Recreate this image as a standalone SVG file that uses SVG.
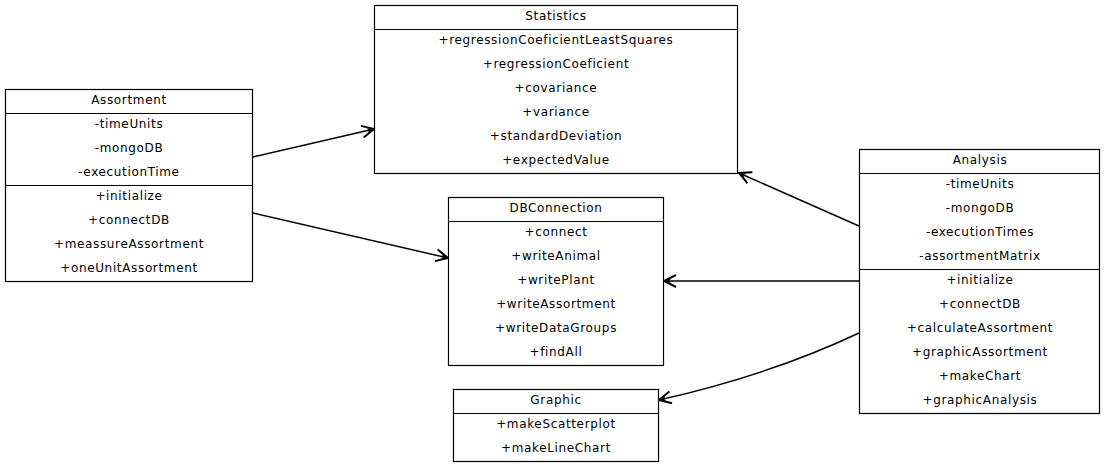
<svg xmlns="http://www.w3.org/2000/svg" width="1107" height="467" viewBox="0 0 1107 467">
<style>
.box{fill:#fff;stroke:#000;stroke-width:1.2}
.ln{stroke:#000;stroke-width:1.2}
text{font-family:"DejaVu Sans",sans-serif;font-size:12px;letter-spacing:0.65px;fill:#000;text-anchor:middle}
.c{fill:none;stroke:#000;stroke-width:1.5}
</style>
<defs>
<marker id="arr" viewBox="-15 -8 16 16" refX="0" refY="0" markerWidth="16" markerHeight="16" markerUnits="userSpaceOnUse" orient="auto">
<path d="M-12,-6 L0,0 L-12,6" fill="none" stroke="#000" stroke-width="2"/>
<path d="M0,0 L-7,-2.5 L-5,0 L-7,2.5 z" fill="#000"/>
</marker>
</defs>
<rect width="1107" height="467" fill="#fff"/>
<g id="Statistics">
<rect class="box" x="374.5" y="5.5" width="363" height="168"/>
<line class="ln" x1="374.5" y1="29.5" x2="737.5" y2="29.5"/>
<text x="556" y="20">Statistics</text>
<text x="556" y="44">+regressionCoeficientLeastSquares</text>
<text x="556" y="68">+regressionCoeficient</text>
<text x="556" y="92">+covariance</text>
<text x="556" y="116">+variance</text>
<text x="556" y="140">+standardDeviation</text>
<text x="556" y="164">+expectedValue</text>
</g>
<g id="Assortment">
<rect class="box" x="5.5" y="89.5" width="247" height="192"/>
<line class="ln" x1="5.5" y1="113.5" x2="252.5" y2="113.5"/>
<line class="ln" x1="5.5" y1="185.5" x2="252.5" y2="185.5"/>
<text x="129" y="104">Assortment</text>
<text x="129" y="128">-timeUnits</text>
<text x="129" y="152">-mongoDB</text>
<text x="129" y="176">-executionTime</text>
<text x="129" y="200">+initialize</text>
<text x="129" y="224">+connectDB</text>
<text x="129" y="248">+meassureAssortment</text>
<text x="129" y="272">+oneUnitAssortment</text>
</g>
<g id="DBConnection">
<rect class="box" x="448.5" y="197.5" width="215" height="168"/>
<line class="ln" x1="448.5" y1="221.5" x2="663.5" y2="221.5"/>
<text x="556" y="212">DBConnection</text>
<text x="556" y="236">+connect</text>
<text x="556" y="260">+writeAnimal</text>
<text x="556" y="284">+writePlant</text>
<text x="556" y="308">+writeAssortment</text>
<text x="556" y="332">+writeDataGroups</text>
<text x="556" y="356">+findAll</text>
</g>
<g id="Analysis">
<rect class="box" x="859.5" y="149.5" width="240" height="264"/>
<line class="ln" x1="859.5" y1="173.5" x2="1099.5" y2="173.5"/>
<line class="ln" x1="859.5" y1="269.5" x2="1099.5" y2="269.5"/>
<text x="980" y="164">Analysis</text>
<text x="980" y="188">-timeUnits</text>
<text x="980" y="212">-mongoDB</text>
<text x="980" y="236">-executionTimes</text>
<text x="980" y="260">-assortmentMatrix</text>
<text x="980" y="284">+initialize</text>
<text x="980" y="308">+connectDB</text>
<text x="980" y="332">+calculateAssortment</text>
<text x="980" y="356">+graphicAssortment</text>
<text x="980" y="380">+makeChart</text>
<text x="980" y="404">+graphicAnalysis</text>
</g>
<g id="Graphic">
<rect class="box" x="453.5" y="389.5" width="205" height="72"/>
<line class="ln" x1="453.5" y1="413.5" x2="658.5" y2="413.5"/>
<text x="556" y="404">Graphic</text>
<text x="556" y="428">+makeScatterplot</text>
<text x="556" y="452">+makeLineChart</text>
</g>
<g id="connectors">
<path class="c" d="M253,157 L374,129" marker-end="url(#arr)"/>
<path class="c" d="M253,213 L448,258" marker-end="url(#arr)"/>
<path class="c" d="M859,226 L739,173" marker-end="url(#arr)"/>
<path class="c" d="M859,281 L664,281" marker-end="url(#arr)"/>
<path class="c" d="M859,333 Q770,375 659,400" marker-end="url(#arr)"/>
</g>
</svg>
